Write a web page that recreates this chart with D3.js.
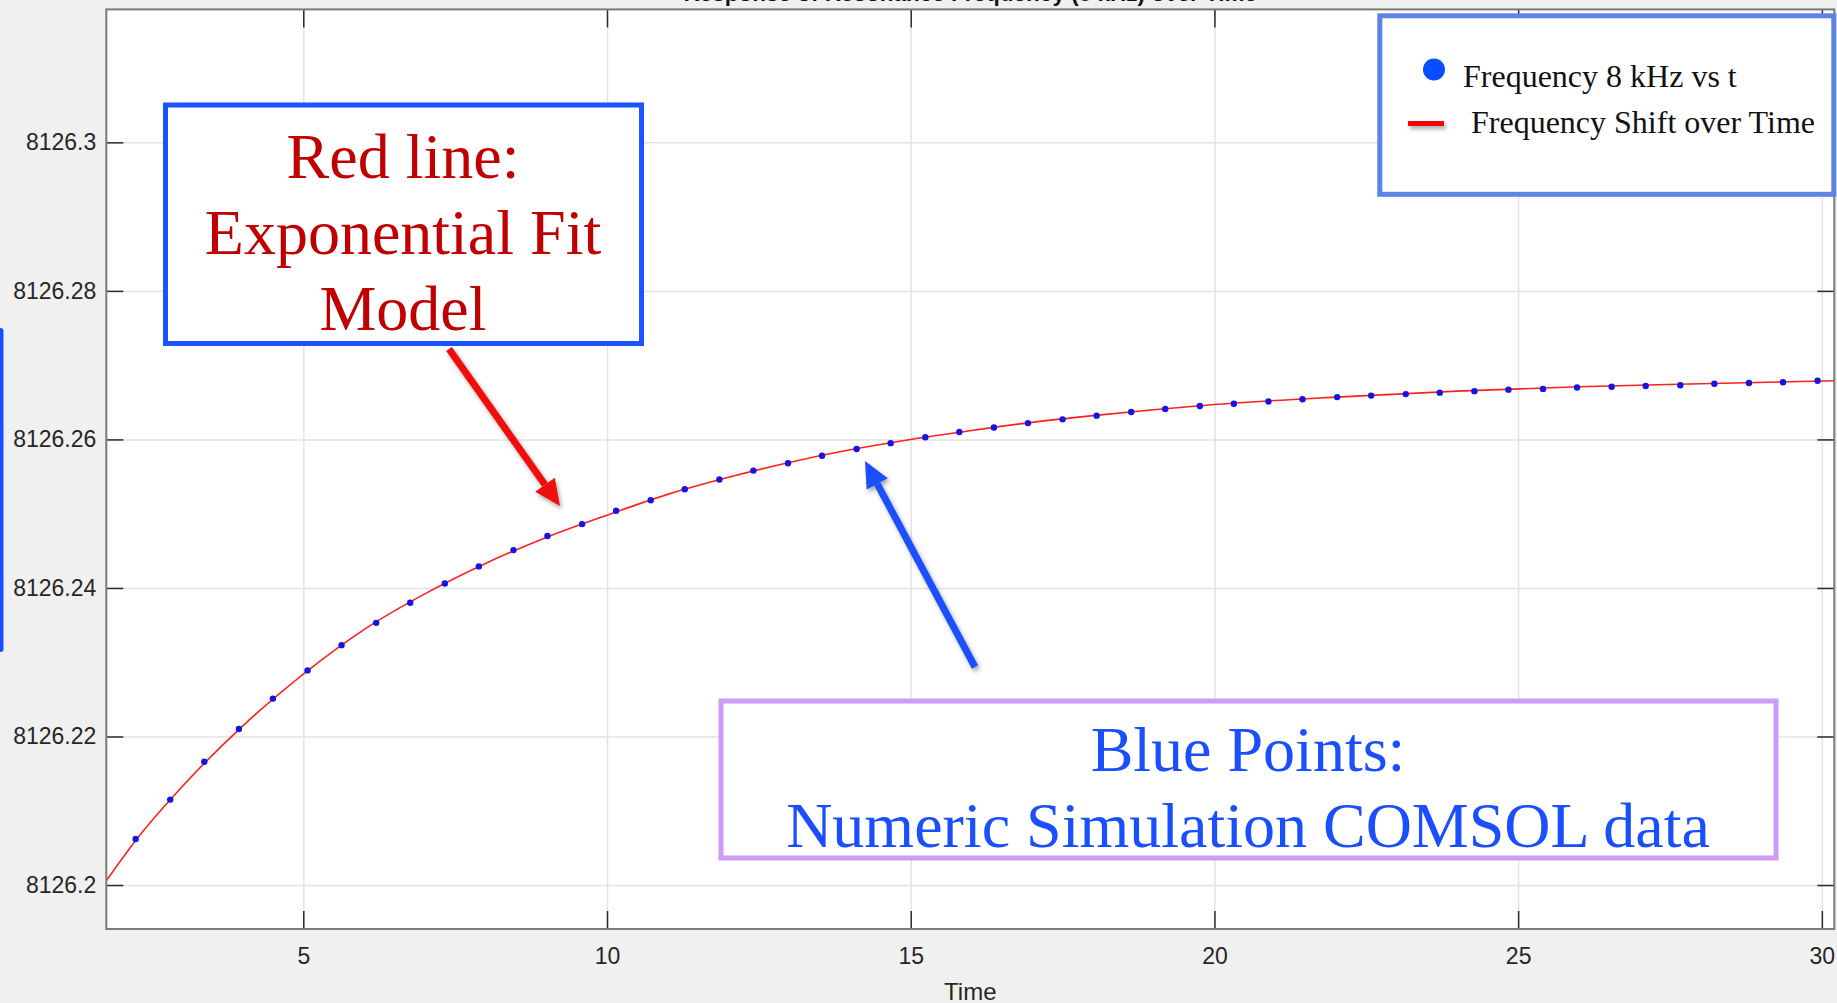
<!DOCTYPE html>
<html>
<head>
<meta charset="utf-8">
<script src="https://cdn.jsdelivr.net/npm/d3@7"></script>
<style>
  body { margin: 0; background: #f0f0f0; overflow: hidden; }
  svg { display: block; }
</style>
</head>
<body>
<div id="chart"></div>
<script>
// simulation points (COMSOL)
var timeVals = [2.24, 2.81, 3.37, 3.94, 4.50, 5.07, 5.63, 6.20, 6.76, 7.33,
    7.89, 8.46, 9.02, 9.59, 10.15, 10.72, 11.28, 11.85, 12.41, 12.98,
    13.54, 14.11, 14.67, 15.24, 15.80, 16.37, 16.93, 17.50, 18.06, 18.63,
    19.19, 19.76, 20.32, 20.89, 21.45, 22.02, 22.58, 23.15, 23.71, 24.28,
    24.84, 25.41, 25.97, 26.54, 27.10, 27.67, 28.23, 28.80, 29.36, 29.93]
var freqVals = [8126.2062, 8126.2115, 8126.2166, 8126.2210, 8126.2251, 8126.2289, 8126.2323, 8126.2353, 8126.2380, 8126.2406,
    8126.2429, 8126.2451, 8126.2470, 8126.2486, 8126.2504, 8126.2518, 8126.2533, 8126.2546, 8126.2558, 8126.2568,
    8126.2578, 8126.2587, 8126.2595, 8126.2603, 8126.2610, 8126.2616, 8126.2622, 8126.2627, 8126.2632, 8126.2637,
    8126.2641, 8126.2645, 8126.2648, 8126.2651, 8126.2654, 8126.2657, 8126.2659, 8126.2661, 8126.2663, 8126.2665,
    8126.2667, 8126.2668, 8126.2670, 8126.2671, 8126.2672, 8126.2673, 8126.2675, 8126.2676, 8126.2677, 8126.2679]

// exponential fit curve
var fitT = [1.76, 2.24, 3, 4, 5, 6, 7, 8, 9, 10, 11, 12, 13, 14, 15, 16, 17, 18, 19, 20, 22, 24, 26, 28, 30.2]
var fitF = [8126.2006, 8126.2060, 8126.2132, 8126.2214, 8126.2284, 8126.2344, 8126.2392, 8126.2433, 8126.2468, 8126.2498,
    8126.2526, 8126.2549, 8126.2569, 8126.2586, 8126.2600, 8126.2612, 8126.2623, 8126.2632, 8126.2640, 8126.2647,
    8126.2657, 8126.2665, 8126.2671, 8126.2675, 8126.2679]

var xTicks = [5, 10, 15, 20, 25, 30]
var yTicks = [8126.2, 8126.22, 8126.24, 8126.26, 8126.28, 8126.3]
var yTickLabels = ["8126.2", "8126.22", "8126.24", "8126.26", "8126.28", "8126.3"]

var width = 1837
var height = 1003

var plotL = 106.3, plotR = 1834.3, plotT = 9.4, plotB = 929

var svg = d3.select("#chart")
    .append("svg")
    .attr("width", width)
    .attr("height", height)

var defs = svg.append("defs")
var shadow = defs.append("filter").attr("id", "shadow")
    .attr("filterUnits", "userSpaceOnUse")
    .attr("x", 0).attr("y", 0).attr("width", width).attr("height", height)
shadow.append("feDropShadow")
    .attr("dx", 2).attr("dy", 3).attr("stdDeviation", 2)
    .attr("flood-color", "#000").attr("flood-opacity", 0.35)

var x = d3.scaleLinear()
    .domain([1.757, 30.205])
    .range([plotL, plotR])

var y = d3.scaleLinear()
    .domain([8126.19408, 8126.3179])
    .range([plotB, plotT])

// title, mostly cut off at the top of the screenshot
svg.append("text")
    .attr("x", (plotL + plotR) / 2)
    .attr("y", 1)
    .attr("text-anchor", "middle")
    .style("font-family", "Liberation Sans, Arial, sans-serif")
    .style("font-weight", "bold")
    .style("font-size", "22.5px")
    .style("fill", "#111")
    .text("Response of Resonance Frequency (8 kHz) over Time")

// plot area
svg.append("rect")
    .attr("x", plotL).attr("y", plotT)
    .attr("width", plotR - plotL).attr("height", plotB - plotT)
    .style("fill", "#fff")

// grid
svg.append("g")
    .attr("transform", "translate(0," + plotB + ")")
    .call(d3.axisBottom(x).tickValues(xTicks).tickSize(-(plotB - plotT)).tickFormat(""))
    .call(g => g.select(".domain").remove())
    .selectAll("line").attr("stroke", "#e3e3e3").attr("stroke-width", 1.5)

svg.append("g")
    .attr("transform", "translate(" + plotL + ",0)")
    .call(d3.axisLeft(y).tickValues(yTicks).tickSize(-(plotR - plotL)).tickFormat(""))
    .call(g => g.select(".domain").remove())
    .selectAll("line").attr("stroke", "#e3e3e3").attr("stroke-width", 1.5)

// fit line
var line = d3.line()
    .x((d, i) => x(fitT[i]))
    .y(d => y(d))
    .curve(d3.curveMonotoneX)

svg.append("path")
    .datum(fitF)
    .attr("d", line)
    .style("fill", "none")
    .attr("stroke", "#ff1f1f")
    .style("stroke-width", 1.6)

// data points
svg.selectAll("mypoints")
    .data(freqVals)
    .join("circle")
    .attr("cx", (d, i) => x(timeVals[i]))
    .attr("cy", d => y(d))
    .attr("r", 3.2)
    .style("fill", "#1414e6")

// axes: labels outside, ticks inside, mirrored on the box
var tickColor = "#2b2b2b"
var labelFont = "Liberation Sans, Arial, sans-serif"

var xAxis = svg.append("g")
    .attr("transform", "translate(0," + plotB + ")")
    .call(d3.axisBottom(x).tickValues(xTicks).tickSize(-18).tickPadding(19).tickFormat(d3.format("d")))
xAxis.select(".domain").remove()
xAxis.selectAll("line").attr("stroke", tickColor).attr("stroke-width", 1.5)
xAxis.selectAll("text").style("font-family", labelFont).style("font-size", "23px").style("fill", "#262626")

var xTop = svg.append("g")
    .attr("transform", "translate(0," + plotT + ")")
    .call(d3.axisTop(x).tickValues(xTicks).tickSize(-18).tickFormat(""))
xTop.select(".domain").remove()
xTop.selectAll("line").attr("stroke", tickColor).attr("stroke-width", 1.5)

var yAxis = svg.append("g")
    .attr("transform", "translate(" + plotL + ",0)")
    .call(d3.axisLeft(y).tickValues(yTicks).tickSize(-17).tickPadding(10).tickFormat((d, i) => yTickLabels[i]))
yAxis.select(".domain").remove()
yAxis.selectAll("line").attr("stroke", tickColor).attr("stroke-width", 1.5)
yAxis.selectAll("text").style("font-family", labelFont).style("font-size", "23px").style("fill", "#262626")

var yRight = svg.append("g")
    .attr("transform", "translate(" + plotR + ",0)")
    .call(d3.axisRight(y).tickValues(yTicks).tickSize(-17).tickFormat(""))
yRight.select(".domain").remove()
yRight.selectAll("line").attr("stroke", tickColor).attr("stroke-width", 1.5)

svg.append("rect")
    .attr("x", plotL).attr("y", plotT)
    .attr("width", plotR - plotL).attr("height", plotB - plotT)
    .style("fill", "none")
    .attr("stroke", "#7a7a7a")
    .style("stroke-width", 2)

svg.append("text")
    .attr("x", (plotL + plotR) / 2)
    .attr("y", 1000)
    .attr("text-anchor", "middle")
    .style("font-family", labelFont)
    .style("font-size", "24px")
    .style("fill", "#262626")
    .text("Time")

// stray blue bar at the left edge of the screenshot
svg.append("rect")
    .attr("x", -3).attr("y", 328)
    .attr("width", 6.5).attr("height", 324)
    .attr("rx", 3)
    .style("fill", "#1a4fff")

// legend
var lg = svg.append("g")
lg.append("rect")
    .attr("x", 1379.8).attr("y", 15.8)
    .attr("width", 454).attr("height", 178.5)
    .style("fill", "#fff")
    .attr("stroke", "#5b84e4")
    .style("stroke-width", 5)
lg.append("circle")
    .attr("cx", 1434).attr("cy", 69.5).attr("r", 11)
    .style("fill", "#0a4cff")
lg.append("text")
    .attr("x", 1463).attr("y", 86.5)
    .style("font-family", "Liberation Serif, Times New Roman, serif")
    .style("font-size", "32px")
    .style("fill", "#111")
    .text("Frequency 8 kHz vs t")
lg.append("rect")
    .attr("x", 1408).attr("y", 121)
    .attr("width", 36).attr("height", 5)
    .style("fill", "#ff0000")
    .attr("filter", "url(#shadow)")
lg.append("text")
    .attr("x", 1471).attr("y", 132.5)
    .style("font-family", "Liberation Serif, Times New Roman, serif")
    .style("font-size", "32px")
    .style("fill", "#111")
    .text("Frequency Shift over Time")

// annotation boxes
var serif = "Liberation Serif, Times New Roman, serif"

svg.append("rect")
    .attr("x", 165.5).attr("y", 105)
    .attr("width", 476).attr("height", 238.5)
    .style("fill", "#fff")
    .attr("stroke", "#1a53ff")
    .style("stroke-width", 5)

var redLines = ["Red line:", "Exponential Fit", "Model"]
svg.selectAll("redlabels")
    .data(redLines)
    .join("text")
    .attr("x", 403)
    .attr("y", (d, i) => 178 + i * 76)
    .attr("text-anchor", "middle")
    .style("font-family", serif)
    .style("font-size", "64px")
    .style("fill", "#c00000")
    .text(d => d)

svg.append("rect")
    .attr("x", 721).attr("y", 701)
    .attr("width", 1055).attr("height", 157)
    .style("fill", "#fff")
    .attr("stroke", "#cc9cf7")
    .style("stroke-width", 5)

var blueLines = ["Blue Points:", "Numeric Simulation COMSOL data"]
svg.selectAll("bluelabels")
    .data(blueLines)
    .join("text")
    .attr("x", 1248)
    .attr("y", (d, i) => 771 + i * 76)
    .attr("text-anchor", "middle")
    .style("font-family", serif)
    .style("font-size", "64px")
    .style("fill", "#1a4fff")
    .text(d => d)

// arrows
function arrow(x1, y1, x2, y2, color) {
    var ang = Math.atan2(y2 - y1, x2 - x1)
    var headLen = 26, headW = 12
    var bx = x2 - headLen * Math.cos(ang), by = y2 - headLen * Math.sin(ang)
    var g = svg.append("g").attr("filter", "url(#shadow)")
    g.append("line")
        .attr("x1", x1).attr("y1", y1)
        .attr("x2", bx).attr("y2", by)
        .attr("stroke", color)
        .style("stroke-width", 7)
    g.append("path")
        .attr("d", "M" + x2 + "," + y2 +
            "L" + (bx + headW * Math.sin(ang)) + "," + (by - headW * Math.cos(ang)) +
            "L" + (bx - headW * Math.sin(ang)) + "," + (by + headW * Math.cos(ang)) + "Z")
        .style("fill", color)
}
arrow(449, 349, 560, 506, "#f01010")
arrow(975, 667, 865, 461, "#1a4fff")
</script>
</body>
</html>
